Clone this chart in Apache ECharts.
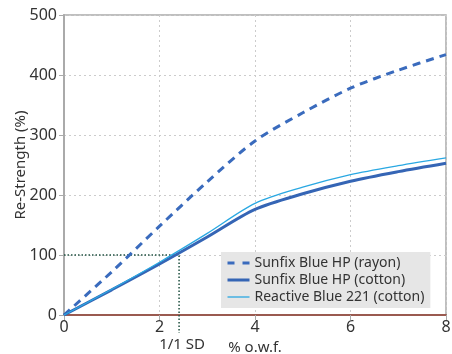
<!DOCTYPE html>
<html><head><meta charset="utf-8">
<script src="https://cdn.jsdelivr.net/npm/echarts@6/dist/echarts.min.js"></script>
<style>html,body{margin:0;padding:0;background:#fff}#c{width:452px;height:354px}</style>
</head><body><div id="c"></div>
<script>
const xValues = [0, 1, 2, 3, 4, 5, 6, 7, 8];
const rayonHP = [0, 72, 148, 222, 290, 337, 378, 408, 434];
const cottonHP = [0, 42, 85, 130, 176, 202, 223, 239, 253];
const reactive221 = [0, 43, 88, 136, 186, 213, 234, 249, 262];
const refX = [0, 2.41, 2.41];
const refY = [100, 100, -30];
const seriesNames = ['Sunfix Blue HP (rayon)', 'Sunfix Blue HP (cotton)', 'Reactive Blue 221 (cotton)'];
const refLabel = '1/1 SD';

const pair = (xs, ys) => xs.map((x, i) => [x, ys[i]]);
const FONT = 'Noto Sans';
const chart = echarts.init(document.getElementById('c'), null, {renderer: 'canvas'});
chart.setOption({
  animation: false,
  textStyle: {fontFamily: FONT},
  grid: {left: 64, right: 6, top: 15, bottom: 39, show: true, borderColor: '#aaa', borderWidth: 1.5,
         containLabel: false, outerBoundsMode: 'none'},
  xAxis: {
    type: 'value', min: 0, max: 8, interval: 2,
    name: '% o.w.f.', nameLocation: 'middle', nameGap: 25,
    nameTextStyle: {fontSize: 15, color: '#333', fontFamily: FONT},
    axisLine: {show: true, onZero: false, lineStyle: {color: '#9a5a50', width: 2}},
    axisTick: {show: true, length: 5, lineStyle: {color: '#aaa'}},
    axisLabel: {fontSize: 16, color: '#333', margin: 4, fontFamily: FONT},
    splitLine: {show: true, lineStyle: {color: '#ccc', type: [2, 3]}}
  },
  yAxis: {
    type: 'value', min: 0, max: 500, interval: 100,
    name: 'Re-Strength (%)', nameLocation: 'middle', nameGap: 36, nameMoveOverlap: false,
    nameTextStyle: {fontSize: 15, color: '#333', fontFamily: FONT},
    axisLine: {show: true, lineStyle: {color: '#aaa', width: 2}},
    axisTick: {show: true, length: 5, lineStyle: {color: '#aaa'}},
    axisLabel: {fontSize: 16, color: '#333', margin: 7, fontFamily: FONT},
    splitLine: {show: true, lineStyle: {color: '#ccc', type: [2, 3]}}
  },
  legend: {
    left: 221, top: 252, orient: 'vertical', itemGap: 3,
    padding: [4, 6, 4, 5], backgroundColor: '#e6e6e6',
    itemWidth: 22, itemHeight: 10,
    itemStyle: {opacity: 0},
    textStyle: {fontSize: 14, color: '#333', fontFamily: FONT},
    data: [
      {name: seriesNames[0], lineStyle: {width: 3, type: [7, 8]}},
      {name: seriesNames[1], lineStyle: {width: 3}},
      {name: seriesNames[2], lineStyle: {width: 1.3}}
    ]
  },
  series: [
    {name: 'ref', type: 'line', data: pair(refX, refY), clip: false, silent: true,
     symbol: 'none', z: 1,
     lineStyle: {color: '#1f5040', width: 1.5, type: [1.5, 2]}},
    {name: seriesNames[0], type: 'line', data: pair(xValues, rayonHP), smooth: 0.3,
     symbol: 'none', color: '#3a6bbd',
     lineStyle: {color: '#3a6bbd', width: 3, type: [8, 6]}},
    {name: seriesNames[1], type: 'line', data: pair(xValues, cottonHP), smooth: 0.3,
     symbol: 'none', color: '#3565b5',
     lineStyle: {color: '#3565b5', width: 3}},
    {name: seriesNames[2], type: 'line', data: pair(xValues, reactive221), smooth: 0.3,
     symbol: 'none', color: '#2aa8e2',
     lineStyle: {color: '#2aa8e2', width: 1.3}}
  ]
});
const p = chart.convertToPixel({gridIndex: 0}, [refX[1], 0]);
chart.setOption({
  graphic: [{type: 'text', x: p[0] + 3, y: 345, style: {text: refLabel, fontSize: 15, fill: '#333', fontFamily: FONT, align: 'center', verticalAlign: 'middle'}}]
});
</script></body></html>
